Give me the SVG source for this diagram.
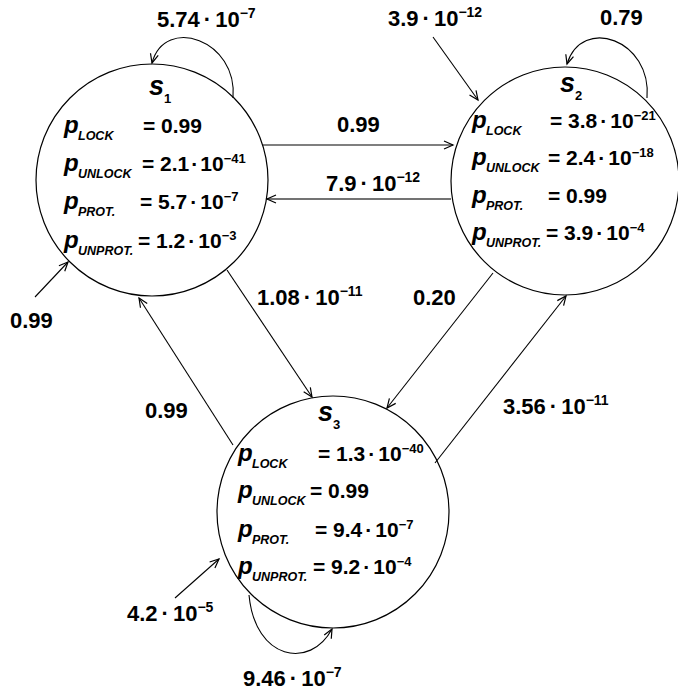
<svg xmlns="http://www.w3.org/2000/svg" width="678" height="694" viewBox="0 0 678 694">
<defs>
<marker id="arr" markerUnits="userSpaceOnUse" markerWidth="12" markerHeight="10" refX="10" refY="5" orient="auto" viewBox="0 0 12 10">
<path d="M1,1 L10,5 L1,9" fill="none" stroke="#000" stroke-width="1.2"/>
</marker>
</defs>
<style>
text { font-family: "Liberation Sans", Arial, sans-serif; font-weight: bold; fill: #000; }
.lbl { font-size: 22px; }
.v { font-size: 21px; }
.p { font-size: 24px; font-style: italic; }
.sub { font-size: 12.5px; font-style: italic; }
.sn { font-size: 27px; font-style: italic; }
.sn1 { font-size: 13px; }
.sup { font-size: 13px; }
.lsup { font-size: 14px; }
.node { fill: #fff; stroke: #000; stroke-width: 1.2; }
.edge { fill: none; stroke: #000; stroke-width: 1.1; marker-end: url(#arr); }
</style>
<rect width="678" height="694" fill="#fff"/>

<g id="s1">
<circle class="node" cx="152" cy="180" r="116"/>
<text class="sn" x="149" y="95">s</text><text class="sn1" x="164" y="103">1</text>
<text class="p" x="64" y="133">p</text><text class="sub" x="78" y="140">LOCK</text><text class="v" x="143" y="133">= 0.99</text>
<text class="p" x="64" y="171">p</text><text class="sub" x="78" y="178">UNLOCK</text><text class="v" x="142" y="171">= 2.1<tspan dx="2">·</tspan><tspan dx="2">10</tspan><tspan class="sup" dy="-8">−41</tspan></text>
<text class="p" x="64" y="209">p</text><text class="sub" x="78" y="216">PROT.</text><text class="v" x="140" y="209">= 5.7<tspan dx="3">·</tspan><tspan dx="3">10</tspan><tspan class="sup" dy="-8">−7</tspan></text>
<text class="p" x="64" y="248">p</text><text class="sub" x="78" y="255">UNPROT.</text><text class="v" x="138" y="248">= 1.2<tspan dx="3">·</tspan><tspan dx="3">10</tspan><tspan class="sup" dy="-8">−3</tspan></text>
</g>

<g id="s2">
<circle class="node" cx="565" cy="181" r="114"/>
<text class="sn" x="560" y="92">s</text><text class="sn1" x="575" y="100">2</text>
<text class="p" x="472" y="128">p</text><text class="sub" x="486" y="135">LOCK</text><text class="v" x="550" y="128">= 3.8<tspan dx="3">·</tspan><tspan dx="3">10</tspan><tspan class="sup" dy="-8">−21</tspan></text>
<text class="p" x="472" y="165">p</text><text class="sub" x="486" y="172">UNLOCK</text><text class="v" x="548" y="165">= 2.4<tspan dx="3">·</tspan><tspan dx="3">10</tspan><tspan class="sup" dy="-8">−18</tspan></text>
<text class="p" x="472" y="203">p</text><text class="sub" x="486" y="210">PROT.</text><text class="v" x="548" y="203">= 0.99</text>
<text class="p" x="472" y="240">p</text><text class="sub" x="486" y="247">UNPROT.</text><text class="v" x="546" y="240">= 3.9<tspan dx="3">·</tspan><tspan dx="3">10</tspan><tspan class="sup" dy="-8">−4</tspan></text>
</g>

<g id="s3">
<circle class="node" cx="333" cy="512" r="116"/>
<text class="sn" x="318" y="421">s</text><text class="sn1" x="333" y="429">3</text>
<text class="p" x="238" y="461">p</text><text class="sub" x="252" y="468">LOCK</text><text class="v" x="318" y="461">= 1.3<tspan dx="3">·</tspan><tspan dx="3">10</tspan><tspan class="sup" dy="-8">−40</tspan></text>
<text class="p" x="238" y="498">p</text><text class="sub" x="252" y="505">UNLOCK</text><text class="v" x="310" y="498">= 0.99</text>
<text class="p" x="238" y="537">p</text><text class="sub" x="252" y="544">PROT.</text><text class="v" x="315" y="537">= 9.4<tspan dx="3">·</tspan><tspan dx="3">10</tspan><tspan class="sup" dy="-8">−7</tspan></text>
<text class="p" x="238" y="574">p</text><text class="sub" x="252" y="581">UNPROT.</text><text class="v" x="313" y="574">= 9.2<tspan dx="3">·</tspan><tspan dx="3">10</tspan><tspan class="sup" dy="-8">−4</tspan></text>
</g>

<g id="connectors">
<path class="edge" d="M233,98 C238,40 165,15 152,63"/>
<path class="edge" d="M647,98 C652,40 582,15 567,64"/>
<path class="edge" d="M433,37 L478,100"/>
<path class="edge" d="M263,145 L453,145"/>
<path class="edge" d="M451,199 L267,199" style="stroke:#444;stroke-width:1.6"/>
<path class="edge" d="M227,270 L312,397"/>
<path class="edge" d="M493,273 L387,408"/>
<path class="edge" d="M435,463 L566,296"/>
<path class="edge" d="M233,445 L139,298"/>
<path class="edge" d="M35,297 L68,262"/>
<path class="edge" d="M175,598 L219,559"/>
<path class="edge" d="M249,595 C255,660 310,670 332,629"/>
</g>

<g id="labels">
<text class="lbl" x="157" y="27">5.74<tspan dx="4">·</tspan><tspan dx="4">10</tspan><tspan class="lsup" dy="-9">−7</tspan></text>
<text class="lbl" x="388" y="26">3.9<tspan dx="4">·</tspan><tspan dx="4">10</tspan><tspan class="lsup" dy="-9">−12</tspan></text>
<text class="lbl" x="600" y="25">0.79</text>
<text class="lbl" x="337" y="132">0.99</text>
<text class="lbl" x="326" y="191">7.9<tspan dx="4">·</tspan><tspan dx="4">10</tspan><tspan class="lsup" dy="-9">−12</tspan></text>
<text class="lbl" x="257" y="305">1.08<tspan dx="4">·</tspan><tspan dx="4">10</tspan><tspan class="lsup" dy="-9">−11</tspan></text>
<text class="lbl" x="413" y="305">0.20</text>
<text class="lbl" x="10" y="328">0.99</text>
<text class="lbl" x="145" y="418">0.99</text>
<text class="lbl" x="503" y="414">3.56<tspan dx="4">·</tspan><tspan dx="4">10</tspan><tspan class="lsup" dy="-9">−11</tspan></text>
<text class="lbl" x="127" y="621">4.2<tspan dx="4">·</tspan><tspan dx="4">10</tspan><tspan class="lsup" dy="-9">−5</tspan></text>
<text class="lbl" x="243" y="686">9.46<tspan dx="4">·</tspan><tspan dx="4">10</tspan><tspan class="lsup" dy="-9">−7</tspan></text>
</g>
</svg>
